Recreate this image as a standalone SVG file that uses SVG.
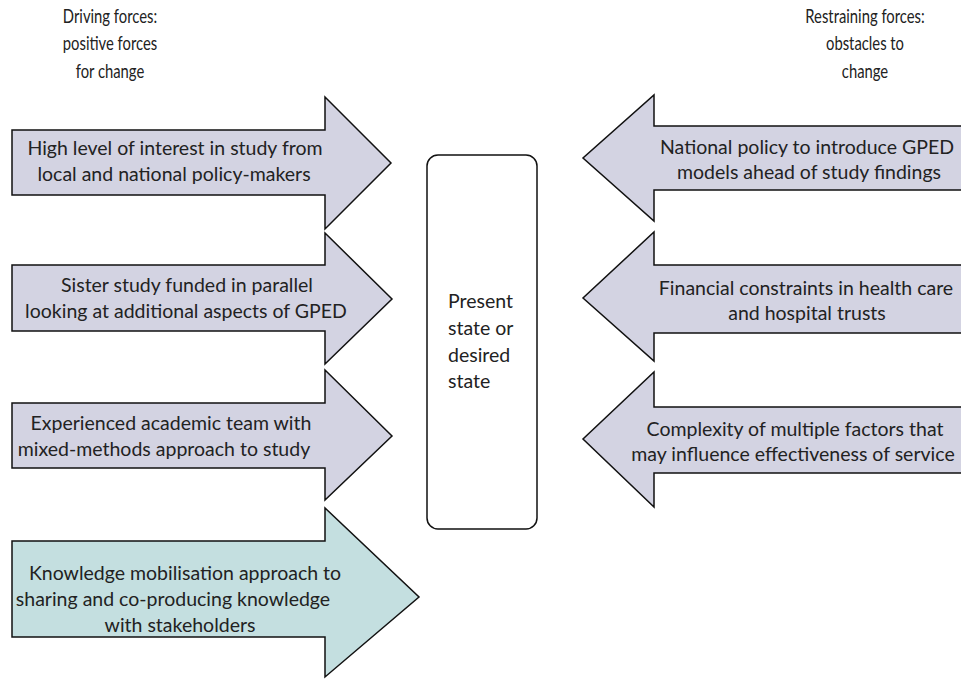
<svg xmlns="http://www.w3.org/2000/svg" width="961" height="679" viewBox="0 0 961 679">
<style>
.arr{fill:#d3d3e2;stroke:#111;stroke-width:1.5;stroke-linejoin:miter}
.km{fill:#c4dfe0}
.t{font-family:Lato,"Noto Sans","Liberation Sans",sans-serif;font-size:19.5px;fill:#222;text-anchor:middle}
.h{font-family:Lato,"Noto Sans","Liberation Sans",sans-serif;font-size:19.5px;fill:#222;text-anchor:middle}
.box{fill:#fff;stroke:#111;stroke-width:1.5}
</style>
<rect width="961" height="679" fill="#fff"/>
<g id="header-left" transform="translate(110,0) scale(0.76,1)">
<text class="h" x="0" y="23">Driving forces:</text>
<text class="h" x="0" y="50">positive forces</text>
<text class="h" x="0" y="78">for change</text>
</g>
<g id="header-right" transform="translate(865,0) scale(0.76,1)">
<text class="h" x="0" y="23">Restraining forces:</text>
<text class="h" x="0" y="50">obstacles to</text>
<text class="h" x="0" y="78">change</text>
</g>
<g id="state">
<rect class="box" x="427" y="155" width="110" height="374" rx="11"/>
<text class="t" style="text-anchor:start" x="448" y="308">Present</text>
<text class="t" style="text-anchor:start" x="448" y="335">state or</text>
<text class="t" style="text-anchor:start" x="448" y="362">desired</text>
<text class="t" style="text-anchor:start" x="448" y="388">state</text>
</g>
<g id="d1">
<polygon class="arr" points="12,130 325,130 325,97 391,163 325,229 325,195 12,195"/>
<text class="t" x="175" y="155">High level of interest in study from</text>
<text class="t" x="174" y="181">local and national policy-makers</text>
</g>
<g id="d2">
<polygon class="arr" points="12,265 325,265 325,233 392,299 325,364 325,331 12,331"/>
<text class="t" x="187" y="292">Sister study funded in parallel</text>
<text class="t" x="186" y="318">looking at additional aspects of GPED</text>
</g>
<g id="d3">
<polygon class="arr" points="12,403 325,403 325,370 392,436 325,500 325,468 12,468"/>
<text class="t" x="171" y="430">Experienced academic team with</text>
<text class="t" x="164" y="456">mixed-methods approach to study</text>
</g>
<g id="d4">
<polygon class="arr km" points="12,541 325,541 325,508 419,597 325,677 325,637 12,637"/>
<text class="t" x="185" y="580">Knowledge mobilisation approach to</text>
<text class="t" x="173" y="606">sharing and co-producing knowledge</text>
<text class="t" x="180" y="632">with stakeholders</text>
</g>
<g id="r1">
<polygon class="arr" points="966,126 654,126 654,95 583,158 654,221 654,190 966,190"/>
<text class="t" x="807" y="154">National policy to introduce GPED</text>
<text class="t" x="809" y="179">models ahead of study findings</text>
</g>
<g id="r2">
<polygon class="arr" points="966,265 654,265 654,232 583,298 654,361 654,333 966,333"/>
<text class="t" x="806" y="295">Financial constraints in health care</text>
<text class="t" x="807" y="320">and hospital trusts</text>
</g>
<g id="r3">
<polygon class="arr" points="966,407 654,407 654,372 583,439 654,507 654,473 966,473"/>
<text class="t" x="795" y="436">Complexity of multiple factors that</text>
<text class="t" x="793" y="461">may influence effectiveness of service</text>
</g>
<g id="connectors"></g>
</svg>
